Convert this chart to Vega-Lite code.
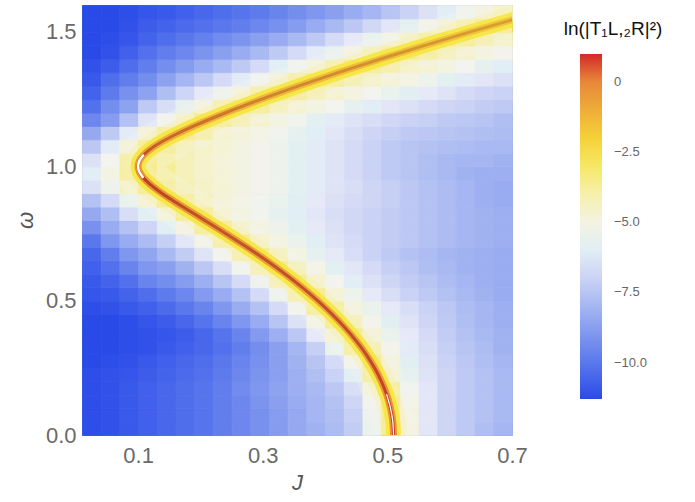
{
"$schema": "https://vega.github.io/schema/vega-lite/v6.json",
"width": 430, "height": 430,
"autosize": {"type": "none"},
"padding": {"left": 82, "top": 5, "right": 183, "bottom": 67},
"background": "white",
"config": {"view": {"stroke": "#9a9a9a", "strokeWidth": 1}, "font": "Liberation Sans"},
"datasets": {
"grid": [
{"j":0.025,"w":0.025,"v":-11.2},{"j":0.055,"w":0.025,"v":-11.1},{"j":0.085,"w":0.025,"v":-10.9},{"j":0.115,"w":0.025,"v":-10.7},{"j":0.145,"w":0.025,"v":-10.5},{"j":0.175,"w":0.025,"v":-10.3},{"j":0.205,"w":0.025,"v":-10.1},{"j":0.235,"w":0.025,"v":-9.8},{"j":0.265,"w":0.025,"v":-9.5},{"j":0.295,"w":0.025,"v":-9.2},{"j":0.325,"w":0.025,"v":-8.8},{"j":0.355,"w":0.025,"v":-8.4},{"j":0.385,"w":0.025,"v":-8.1},{"j":0.415,"w":0.025,"v":-7.8},{"j":0.445,"w":0.025,"v":-7.2},{"j":0.475,"w":0.025,"v":-5.6},{"j":0.505,"w":0.025,"v":-2.8},{"j":0.535,"w":0.025,"v":-4.9},{"j":0.565,"w":0.025,"v":-6.3},{"j":0.595,"w":0.025,"v":-6.9},{"j":0.625,"w":0.025,"v":-7.3},{"j":0.655,"w":0.025,"v":-7.7},{"j":0.685,"w":0.025,"v":-8.0},
{"j":0.025,"w":0.075,"v":-11.2},{"j":0.055,"w":0.075,"v":-11.1},{"j":0.085,"w":0.075,"v":-10.9},{"j":0.115,"w":0.075,"v":-10.7},{"j":0.145,"w":0.075,"v":-10.5},{"j":0.175,"w":0.075,"v":-10.3},{"j":0.205,"w":0.075,"v":-10.1},{"j":0.235,"w":0.075,"v":-9.8},{"j":0.265,"w":0.075,"v":-9.5},{"j":0.295,"w":0.075,"v":-9.2},{"j":0.325,"w":0.075,"v":-8.8},{"j":0.355,"w":0.075,"v":-8.4},{"j":0.385,"w":0.075,"v":-8.0},{"j":0.415,"w":0.075,"v":-7.7},{"j":0.445,"w":0.075,"v":-7.1},{"j":0.475,"w":0.075,"v":-5.5},{"j":0.505,"w":0.075,"v":-2.6},{"j":0.535,"w":0.075,"v":-5.0},{"j":0.565,"w":0.075,"v":-6.3},{"j":0.595,"w":0.075,"v":-6.9},{"j":0.625,"w":0.075,"v":-7.3},{"j":0.655,"w":0.075,"v":-7.6},{"j":0.685,"w":0.075,"v":-7.9},
{"j":0.025,"w":0.125,"v":-11.2},{"j":0.055,"w":0.125,"v":-11.1},{"j":0.085,"w":0.125,"v":-10.9},{"j":0.115,"w":0.125,"v":-10.7},{"j":0.145,"w":0.125,"v":-10.5},{"j":0.175,"w":0.125,"v":-10.3},{"j":0.205,"w":0.125,"v":-10.1},{"j":0.235,"w":0.125,"v":-9.8},{"j":0.265,"w":0.125,"v":-9.5},{"j":0.295,"w":0.125,"v":-9.1},{"j":0.325,"w":0.125,"v":-8.7},{"j":0.355,"w":0.125,"v":-8.3},{"j":0.385,"w":0.125,"v":-8.0},{"j":0.415,"w":0.125,"v":-7.6},{"j":0.445,"w":0.125,"v":-6.9},{"j":0.475,"w":0.125,"v":-5.3},{"j":0.505,"w":0.125,"v":-2.6},{"j":0.535,"w":0.125,"v":-5.1},{"j":0.565,"w":0.125,"v":-6.3},{"j":0.595,"w":0.125,"v":-6.9},{"j":0.625,"w":0.125,"v":-7.3},{"j":0.655,"w":0.125,"v":-7.6},{"j":0.685,"w":0.125,"v":-7.9},
{"j":0.025,"w":0.175,"v":-11.2},{"j":0.055,"w":0.175,"v":-11.1},{"j":0.085,"w":0.175,"v":-10.9},{"j":0.115,"w":0.175,"v":-10.7},{"j":0.145,"w":0.175,"v":-10.5},{"j":0.175,"w":0.175,"v":-10.3},{"j":0.205,"w":0.175,"v":-10.1},{"j":0.235,"w":0.175,"v":-9.8},{"j":0.265,"w":0.175,"v":-9.4},{"j":0.295,"w":0.175,"v":-9.0},{"j":0.325,"w":0.175,"v":-8.6},{"j":0.355,"w":0.175,"v":-8.2},{"j":0.385,"w":0.175,"v":-7.9},{"j":0.415,"w":0.175,"v":-7.4},{"j":0.445,"w":0.175,"v":-6.6},{"j":0.475,"w":0.175,"v":-4.7},{"j":0.505,"w":0.175,"v":-3.3},{"j":0.535,"w":0.175,"v":-5.4},{"j":0.565,"w":0.175,"v":-6.3},{"j":0.595,"w":0.175,"v":-6.9},{"j":0.625,"w":0.175,"v":-7.3},{"j":0.655,"w":0.175,"v":-7.6},{"j":0.685,"w":0.175,"v":-7.9},
{"j":0.025,"w":0.225,"v":-11.2},{"j":0.055,"w":0.225,"v":-11.1},{"j":0.085,"w":0.225,"v":-11.0},{"j":0.115,"w":0.225,"v":-10.8},{"j":0.145,"w":0.225,"v":-10.6},{"j":0.175,"w":0.225,"v":-10.4},{"j":0.205,"w":0.225,"v":-10.2},{"j":0.235,"w":0.225,"v":-9.9},{"j":0.265,"w":0.225,"v":-9.5},{"j":0.295,"w":0.225,"v":-9.1},{"j":0.325,"w":0.225,"v":-8.7},{"j":0.355,"w":0.225,"v":-8.2},{"j":0.385,"w":0.225,"v":-7.7},{"j":0.415,"w":0.225,"v":-7.0},{"j":0.445,"w":0.225,"v":-5.9},{"j":0.475,"w":0.225,"v":-3.3},{"j":0.505,"w":0.225,"v":-4.5},{"j":0.535,"w":0.225,"v":-5.7},{"j":0.565,"w":0.225,"v":-6.4},{"j":0.595,"w":0.225,"v":-6.9},{"j":0.625,"w":0.225,"v":-7.3},{"j":0.655,"w":0.225,"v":-7.6},{"j":0.685,"w":0.225,"v":-7.9},
{"j":0.025,"w":0.275,"v":-11.3},{"j":0.055,"w":0.275,"v":-11.2},{"j":0.085,"w":0.275,"v":-11.1},{"j":0.115,"w":0.275,"v":-10.9},{"j":0.145,"w":0.275,"v":-10.7},{"j":0.175,"w":0.275,"v":-10.5},{"j":0.205,"w":0.275,"v":-10.3},{"j":0.235,"w":0.275,"v":-10.0},{"j":0.265,"w":0.275,"v":-9.6},{"j":0.295,"w":0.275,"v":-9.2},{"j":0.325,"w":0.275,"v":-8.7},{"j":0.355,"w":0.275,"v":-8.1},{"j":0.385,"w":0.275,"v":-7.5},{"j":0.415,"w":0.275,"v":-6.7},{"j":0.445,"w":0.275,"v":-5.2},{"j":0.475,"w":0.275,"v":-2.6},{"j":0.505,"w":0.275,"v":-4.8},{"j":0.535,"w":0.275,"v":-5.9},{"j":0.565,"w":0.275,"v":-6.5},{"j":0.595,"w":0.275,"v":-7.0},{"j":0.625,"w":0.275,"v":-7.4},{"j":0.655,"w":0.275,"v":-7.7},{"j":0.685,"w":0.275,"v":-8.0},
{"j":0.025,"w":0.325,"v":-11.3},{"j":0.055,"w":0.325,"v":-11.3},{"j":0.085,"w":0.325,"v":-11.2},{"j":0.115,"w":0.325,"v":-11.1},{"j":0.145,"w":0.325,"v":-10.9},{"j":0.175,"w":0.325,"v":-10.7},{"j":0.205,"w":0.325,"v":-10.5},{"j":0.235,"w":0.325,"v":-10.2},{"j":0.265,"w":0.325,"v":-9.8},{"j":0.295,"w":0.325,"v":-9.3},{"j":0.325,"w":0.325,"v":-8.7},{"j":0.355,"w":0.325,"v":-8.0},{"j":0.385,"w":0.325,"v":-7.1},{"j":0.415,"w":0.325,"v":-5.6},{"j":0.445,"w":0.325,"v":-3.4},{"j":0.475,"w":0.325,"v":-3.8},{"j":0.505,"w":0.325,"v":-5.2},{"j":0.535,"w":0.325,"v":-6.1},{"j":0.565,"w":0.325,"v":-6.6},{"j":0.595,"w":0.325,"v":-7.1},{"j":0.625,"w":0.325,"v":-7.5},{"j":0.655,"w":0.325,"v":-7.8},{"j":0.685,"w":0.325,"v":-8.1},
{"j":0.025,"w":0.375,"v":-11.3},{"j":0.055,"w":0.375,"v":-11.3},{"j":0.085,"w":0.375,"v":-11.2},{"j":0.115,"w":0.375,"v":-11.1},{"j":0.145,"w":0.375,"v":-11.0},{"j":0.175,"w":0.375,"v":-10.8},{"j":0.205,"w":0.375,"v":-10.5},{"j":0.235,"w":0.375,"v":-10.1},{"j":0.265,"w":0.375,"v":-9.6},{"j":0.295,"w":0.375,"v":-8.9},{"j":0.325,"w":0.375,"v":-8.2},{"j":0.355,"w":0.375,"v":-7.4},{"j":0.385,"w":0.375,"v":-6.2},{"j":0.415,"w":0.375,"v":-4.4},{"j":0.445,"w":0.375,"v":-2.6},{"j":0.475,"w":0.375,"v":-4.6},{"j":0.505,"w":0.375,"v":-5.6},{"j":0.535,"w":0.375,"v":-6.2},{"j":0.565,"w":0.375,"v":-6.7},{"j":0.595,"w":0.375,"v":-7.2},{"j":0.625,"w":0.375,"v":-7.6},{"j":0.655,"w":0.375,"v":-7.9},{"j":0.685,"w":0.375,"v":-8.1},
{"j":0.025,"w":0.425,"v":-11.3},{"j":0.055,"w":0.425,"v":-11.3},{"j":0.085,"w":0.425,"v":-11.2},{"j":0.115,"w":0.425,"v":-11.0},{"j":0.145,"w":0.425,"v":-10.8},{"j":0.175,"w":0.425,"v":-10.5},{"j":0.205,"w":0.425,"v":-10.1},{"j":0.235,"w":0.425,"v":-9.6},{"j":0.265,"w":0.425,"v":-9.0},{"j":0.295,"w":0.425,"v":-8.3},{"j":0.325,"w":0.425,"v":-7.5},{"j":0.355,"w":0.425,"v":-6.5},{"j":0.385,"w":0.425,"v":-5.0},{"j":0.415,"w":0.425,"v":-2.8},{"j":0.445,"w":0.425,"v":-4.0},{"j":0.475,"w":0.425,"v":-5.2},{"j":0.505,"w":0.425,"v":-5.9},{"j":0.535,"w":0.425,"v":-6.4},{"j":0.565,"w":0.425,"v":-6.9},{"j":0.595,"w":0.425,"v":-7.3},{"j":0.625,"w":0.425,"v":-7.7},{"j":0.655,"w":0.425,"v":-8.0},{"j":0.685,"w":0.425,"v":-8.2},
{"j":0.025,"w":0.475,"v":-11.2},{"j":0.055,"w":0.475,"v":-11.1},{"j":0.085,"w":0.475,"v":-10.9},{"j":0.115,"w":0.475,"v":-10.7},{"j":0.145,"w":0.475,"v":-10.4},{"j":0.175,"w":0.475,"v":-10.0},{"j":0.205,"w":0.475,"v":-9.6},{"j":0.235,"w":0.475,"v":-9.0},{"j":0.265,"w":0.475,"v":-8.3},{"j":0.295,"w":0.475,"v":-7.6},{"j":0.325,"w":0.475,"v":-6.7},{"j":0.355,"w":0.475,"v":-5.3},{"j":0.385,"w":0.475,"v":-3.3},{"j":0.415,"w":0.475,"v":-3.3},{"j":0.445,"w":0.475,"v":-4.8},{"j":0.475,"w":0.475,"v":-5.6},{"j":0.505,"w":0.475,"v":-6.2},{"j":0.535,"w":0.475,"v":-6.6},{"j":0.565,"w":0.475,"v":-7.0},{"j":0.595,"w":0.475,"v":-7.4},{"j":0.625,"w":0.475,"v":-7.8},{"j":0.655,"w":0.475,"v":-8.0},{"j":0.685,"w":0.475,"v":-8.2},
{"j":0.025,"w":0.525,"v":-11.0},{"j":0.055,"w":0.525,"v":-10.9},{"j":0.085,"w":0.525,"v":-10.6},{"j":0.115,"w":0.525,"v":-10.3},{"j":0.145,"w":0.525,"v":-9.9},{"j":0.175,"w":0.525,"v":-9.5},{"j":0.205,"w":0.525,"v":-8.9},{"j":0.235,"w":0.525,"v":-8.3},{"j":0.265,"w":0.525,"v":-7.6},{"j":0.295,"w":0.525,"v":-6.7},{"j":0.325,"w":0.525,"v":-5.5},{"j":0.355,"w":0.525,"v":-3.7},{"j":0.385,"w":0.525,"v":-2.7},{"j":0.415,"w":0.525,"v":-4.5},{"j":0.445,"w":0.525,"v":-5.5},{"j":0.475,"w":0.525,"v":-6.2},{"j":0.505,"w":0.525,"v":-6.6},{"j":0.535,"w":0.525,"v":-7.0},{"j":0.565,"w":0.525,"v":-7.3},{"j":0.595,"w":0.525,"v":-7.6},{"j":0.625,"w":0.525,"v":-7.9},{"j":0.655,"w":0.525,"v":-8.1},{"j":0.685,"w":0.525,"v":-8.3},
{"j":0.025,"w":0.575,"v":-10.9},{"j":0.055,"w":0.575,"v":-10.6},{"j":0.085,"w":0.575,"v":-10.2},{"j":0.115,"w":0.575,"v":-9.6},{"j":0.145,"w":0.575,"v":-9.3},{"j":0.175,"w":0.575,"v":-8.8},{"j":0.205,"w":0.575,"v":-8.2},{"j":0.235,"w":0.575,"v":-7.5},{"j":0.265,"w":0.575,"v":-6.7},{"j":0.295,"w":0.575,"v":-5.5},{"j":0.325,"w":0.575,"v":-3.9},{"j":0.355,"w":0.575,"v":-2.6},{"j":0.385,"w":0.575,"v":-4.3},{"j":0.415,"w":0.575,"v":-5.3},{"j":0.445,"w":0.575,"v":-6.0},{"j":0.475,"w":0.575,"v":-6.5},{"j":0.505,"w":0.575,"v":-6.9},{"j":0.535,"w":0.575,"v":-7.2},{"j":0.565,"w":0.575,"v":-7.5},{"j":0.595,"w":0.575,"v":-7.8},{"j":0.625,"w":0.575,"v":-8.0},{"j":0.655,"w":0.575,"v":-8.2},{"j":0.685,"w":0.575,"v":-8.3},
{"j":0.025,"w":0.625,"v":-10.7},{"j":0.055,"w":0.625,"v":-10.2},{"j":0.085,"w":0.625,"v":-9.6},{"j":0.115,"w":0.625,"v":-9.0},{"j":0.145,"w":0.625,"v":-8.7},{"j":0.175,"w":0.625,"v":-8.1},{"j":0.205,"w":0.625,"v":-7.4},{"j":0.235,"w":0.625,"v":-6.6},{"j":0.265,"w":0.625,"v":-5.4},{"j":0.295,"w":0.625,"v":-3.9},{"j":0.325,"w":0.625,"v":-2.6},{"j":0.355,"w":0.625,"v":-4.1},{"j":0.385,"w":0.625,"v":-5.1},{"j":0.415,"w":0.625,"v":-5.8},{"j":0.445,"w":0.625,"v":-6.3},{"j":0.475,"w":0.625,"v":-6.7},{"j":0.505,"w":0.625,"v":-7.1},{"j":0.535,"w":0.625,"v":-7.4},{"j":0.565,"w":0.625,"v":-7.7},{"j":0.595,"w":0.625,"v":-7.9},{"j":0.625,"w":0.625,"v":-8.1},{"j":0.655,"w":0.625,"v":-8.2},{"j":0.685,"w":0.625,"v":-8.3},
{"j":0.025,"w":0.675,"v":-10.5},{"j":0.055,"w":0.675,"v":-9.8},{"j":0.085,"w":0.675,"v":-9.0},{"j":0.115,"w":0.675,"v":-8.5},{"j":0.145,"w":0.675,"v":-7.9},{"j":0.175,"w":0.675,"v":-7.2},{"j":0.205,"w":0.675,"v":-6.4},{"j":0.235,"w":0.675,"v":-5.3},{"j":0.265,"w":0.675,"v":-3.7},{"j":0.295,"w":0.675,"v":-2.6},{"j":0.325,"w":0.675,"v":-4.1},{"j":0.355,"w":0.675,"v":-5.0},{"j":0.385,"w":0.675,"v":-5.7},{"j":0.415,"w":0.675,"v":-6.2},{"j":0.445,"w":0.675,"v":-6.6},{"j":0.475,"w":0.675,"v":-7.0},{"j":0.505,"w":0.675,"v":-7.3},{"j":0.535,"w":0.675,"v":-7.6},{"j":0.565,"w":0.675,"v":-7.8},{"j":0.595,"w":0.675,"v":-8.0},{"j":0.625,"w":0.675,"v":-8.1},{"j":0.655,"w":0.675,"v":-8.2},{"j":0.685,"w":0.675,"v":-8.3},
{"j":0.025,"w":0.725,"v":-10.0},{"j":0.055,"w":0.725,"v":-9.0},{"j":0.085,"w":0.725,"v":-8.3},{"j":0.115,"w":0.725,"v":-7.8},{"j":0.145,"w":0.725,"v":-7.1},{"j":0.175,"w":0.725,"v":-6.3},{"j":0.205,"w":0.725,"v":-5.1},{"j":0.235,"w":0.725,"v":-3.5},{"j":0.265,"w":0.725,"v":-2.7},{"j":0.295,"w":0.725,"v":-4.2},{"j":0.325,"w":0.725,"v":-5.0},{"j":0.355,"w":0.725,"v":-5.6},{"j":0.385,"w":0.725,"v":-6.0},{"j":0.415,"w":0.725,"v":-6.4},{"j":0.445,"w":0.725,"v":-6.7},{"j":0.475,"w":0.725,"v":-7.0},{"j":0.505,"w":0.725,"v":-7.2},{"j":0.535,"w":0.725,"v":-7.4},{"j":0.565,"w":0.725,"v":-7.6},{"j":0.595,"w":0.725,"v":-7.8},{"j":0.625,"w":0.725,"v":-8.0},{"j":0.655,"w":0.725,"v":-8.1},{"j":0.685,"w":0.725,"v":-8.2},
{"j":0.025,"w":0.775,"v":-9.2},{"j":0.055,"w":0.775,"v":-8.3},{"j":0.085,"w":0.775,"v":-7.6},{"j":0.115,"w":0.775,"v":-6.9},{"j":0.145,"w":0.775,"v":-6.0},{"j":0.175,"w":0.775,"v":-4.9},{"j":0.205,"w":0.775,"v":-3.2},{"j":0.235,"w":0.775,"v":-2.8},{"j":0.265,"w":0.775,"v":-4.3},{"j":0.295,"w":0.775,"v":-5.0},{"j":0.325,"w":0.775,"v":-5.5},{"j":0.355,"w":0.775,"v":-5.8},{"j":0.385,"w":0.775,"v":-6.2},{"j":0.415,"w":0.775,"v":-6.5},{"j":0.445,"w":0.775,"v":-6.8},{"j":0.475,"w":0.775,"v":-7.0},{"j":0.505,"w":0.775,"v":-7.2},{"j":0.535,"w":0.775,"v":-7.4},{"j":0.565,"w":0.775,"v":-7.6},{"j":0.595,"w":0.775,"v":-7.8},{"j":0.625,"w":0.775,"v":-8.0},{"j":0.655,"w":0.775,"v":-8.1},{"j":0.685,"w":0.775,"v":-8.2},
{"j":0.025,"w":0.825,"v":-8.4},{"j":0.055,"w":0.825,"v":-7.7},{"j":0.085,"w":0.825,"v":-6.6},{"j":0.115,"w":0.825,"v":-5.9},{"j":0.145,"w":0.825,"v":-4.7},{"j":0.175,"w":0.825,"v":-2.9},{"j":0.205,"w":0.825,"v":-3.0},{"j":0.235,"w":0.825,"v":-4.4},{"j":0.265,"w":0.825,"v":-5.0},{"j":0.295,"w":0.825,"v":-5.4},{"j":0.325,"w":0.825,"v":-5.7},{"j":0.355,"w":0.825,"v":-6.0},{"j":0.385,"w":0.825,"v":-6.3},{"j":0.415,"w":0.825,"v":-6.6},{"j":0.445,"w":0.825,"v":-6.8},{"j":0.475,"w":0.825,"v":-7.0},{"j":0.505,"w":0.825,"v":-7.2},{"j":0.535,"w":0.825,"v":-7.4},{"j":0.565,"w":0.825,"v":-7.6},{"j":0.595,"w":0.825,"v":-7.8},{"j":0.625,"w":0.825,"v":-8.0},{"j":0.655,"w":0.825,"v":-8.1},{"j":0.685,"w":0.825,"v":-8.2},
{"j":0.025,"w":0.875,"v":-7.6},{"j":0.055,"w":0.875,"v":-6.7},{"j":0.085,"w":0.875,"v":-5.6},{"j":0.115,"w":0.875,"v":-4.4},{"j":0.145,"w":0.875,"v":-2.7},{"j":0.175,"w":0.875,"v":-3.3},{"j":0.205,"w":0.875,"v":-4.2},{"j":0.235,"w":0.875,"v":-4.8},{"j":0.265,"w":0.875,"v":-5.1},{"j":0.295,"w":0.875,"v":-5.4},{"j":0.325,"w":0.875,"v":-5.6},{"j":0.355,"w":0.875,"v":-5.9},{"j":0.385,"w":0.875,"v":-6.2},{"j":0.415,"w":0.875,"v":-6.5},{"j":0.445,"w":0.875,"v":-6.7},{"j":0.475,"w":0.875,"v":-6.9},{"j":0.505,"w":0.875,"v":-7.1},{"j":0.535,"w":0.875,"v":-7.4},{"j":0.565,"w":0.875,"v":-7.6},{"j":0.595,"w":0.875,"v":-7.8},{"j":0.625,"w":0.875,"v":-8.0},{"j":0.655,"w":0.875,"v":-8.2},{"j":0.685,"w":0.875,"v":-8.3},
{"j":0.025,"w":0.925,"v":-6.5},{"j":0.055,"w":0.925,"v":-5.5},{"j":0.085,"w":0.925,"v":-4.3},{"j":0.115,"w":0.925,"v":-2.7},{"j":0.145,"w":0.925,"v":-3.4},{"j":0.175,"w":0.925,"v":-4.0},{"j":0.205,"w":0.925,"v":-4.4},{"j":0.235,"w":0.925,"v":-4.7},{"j":0.265,"w":0.925,"v":-5.0},{"j":0.295,"w":0.925,"v":-5.2},{"j":0.325,"w":0.925,"v":-5.5},{"j":0.355,"w":0.925,"v":-5.8},{"j":0.385,"w":0.925,"v":-6.1},{"j":0.415,"w":0.925,"v":-6.4},{"j":0.445,"w":0.925,"v":-6.6},{"j":0.475,"w":0.925,"v":-6.9},{"j":0.505,"w":0.925,"v":-7.1},{"j":0.535,"w":0.925,"v":-7.4},{"j":0.565,"w":0.925,"v":-7.6},{"j":0.595,"w":0.925,"v":-7.8},{"j":0.625,"w":0.925,"v":-8.0},{"j":0.655,"w":0.925,"v":-8.2},{"j":0.685,"w":0.925,"v":-8.3},
{"j":0.025,"w":0.975,"v":-6.0},{"j":0.055,"w":0.975,"v":-5.0},{"j":0.085,"w":0.975,"v":-3.4},{"j":0.115,"w":0.975,"v":-2.9},{"j":0.145,"w":0.975,"v":-3.7},{"j":0.175,"w":0.975,"v":-4.2},{"j":0.205,"w":0.975,"v":-4.5},{"j":0.235,"w":0.975,"v":-4.8},{"j":0.265,"w":0.975,"v":-5.0},{"j":0.295,"w":0.975,"v":-5.2},{"j":0.325,"w":0.975,"v":-5.5},{"j":0.355,"w":0.975,"v":-5.8},{"j":0.385,"w":0.975,"v":-6.1},{"j":0.415,"w":0.975,"v":-6.4},{"j":0.445,"w":0.975,"v":-6.7},{"j":0.475,"w":0.975,"v":-7.0},{"j":0.505,"w":0.975,"v":-7.3},{"j":0.535,"w":0.975,"v":-7.5},{"j":0.565,"w":0.975,"v":-7.7},{"j":0.595,"w":0.975,"v":-7.9},{"j":0.625,"w":0.975,"v":-8.1},{"j":0.655,"w":0.975,"v":-8.2},{"j":0.685,"w":0.975,"v":-8.2},
{"j":0.025,"w":1.025,"v":-6.5},{"j":0.055,"w":1.025,"v":-5.3},{"j":0.085,"w":1.025,"v":-3.5},{"j":0.115,"w":1.025,"v":-2.9},{"j":0.145,"w":1.025,"v":-3.7},{"j":0.175,"w":1.025,"v":-4.2},{"j":0.205,"w":1.025,"v":-4.5},{"j":0.235,"w":1.025,"v":-4.8},{"j":0.265,"w":1.025,"v":-5.0},{"j":0.295,"w":1.025,"v":-5.2},{"j":0.325,"w":1.025,"v":-5.5},{"j":0.355,"w":1.025,"v":-5.8},{"j":0.385,"w":1.025,"v":-6.1},{"j":0.415,"w":1.025,"v":-6.4},{"j":0.445,"w":1.025,"v":-6.7},{"j":0.475,"w":1.025,"v":-7.0},{"j":0.505,"w":1.025,"v":-7.3},{"j":0.535,"w":1.025,"v":-7.5},{"j":0.565,"w":1.025,"v":-7.7},{"j":0.595,"w":1.025,"v":-7.9},{"j":0.625,"w":1.025,"v":-8.0},{"j":0.655,"w":1.025,"v":-8.0},{"j":0.685,"w":1.025,"v":-8.1},
{"j":0.025,"w":1.075,"v":-7.4},{"j":0.055,"w":1.075,"v":-6.1},{"j":0.085,"w":1.075,"v":-4.6},{"j":0.115,"w":1.075,"v":-2.8},{"j":0.145,"w":1.075,"v":-3.2},{"j":0.175,"w":1.075,"v":-4.0},{"j":0.205,"w":1.075,"v":-4.4},{"j":0.235,"w":1.075,"v":-4.7},{"j":0.265,"w":1.075,"v":-5.0},{"j":0.295,"w":1.075,"v":-5.2},{"j":0.325,"w":1.075,"v":-5.5},{"j":0.355,"w":1.075,"v":-5.8},{"j":0.385,"w":1.075,"v":-6.1},{"j":0.415,"w":1.075,"v":-6.4},{"j":0.445,"w":1.075,"v":-6.7},{"j":0.475,"w":1.075,"v":-7.0},{"j":0.505,"w":1.075,"v":-7.3},{"j":0.535,"w":1.075,"v":-7.5},{"j":0.565,"w":1.075,"v":-7.6},{"j":0.595,"w":1.075,"v":-7.7},{"j":0.625,"w":1.075,"v":-7.8},{"j":0.655,"w":1.075,"v":-7.9},{"j":0.685,"w":1.075,"v":-7.9},
{"j":0.025,"w":1.125,"v":-8.4},{"j":0.055,"w":1.125,"v":-7.3},{"j":0.085,"w":1.125,"v":-6.1},{"j":0.115,"w":1.125,"v":-4.6},{"j":0.145,"w":1.125,"v":-3.1},{"j":0.175,"w":1.125,"v":-2.6},{"j":0.205,"w":1.125,"v":-3.6},{"j":0.235,"w":1.125,"v":-4.4},{"j":0.265,"w":1.125,"v":-4.8},{"j":0.295,"w":1.125,"v":-5.1},{"j":0.325,"w":1.125,"v":-5.4},{"j":0.355,"w":1.125,"v":-5.7},{"j":0.385,"w":1.125,"v":-6.0},{"j":0.415,"w":1.125,"v":-6.3},{"j":0.445,"w":1.125,"v":-6.6},{"j":0.475,"w":1.125,"v":-6.9},{"j":0.505,"w":1.125,"v":-7.1},{"j":0.535,"w":1.125,"v":-7.3},{"j":0.565,"w":1.125,"v":-7.4},{"j":0.595,"w":1.125,"v":-7.5},{"j":0.625,"w":1.125,"v":-7.6},{"j":0.655,"w":1.125,"v":-7.7},{"j":0.685,"w":1.125,"v":-7.8},
{"j":0.025,"w":1.175,"v":-9.5},{"j":0.055,"w":1.175,"v":-8.8},{"j":0.085,"w":1.175,"v":-7.6},{"j":0.115,"w":1.175,"v":-6.4},{"j":0.145,"w":1.175,"v":-5.3},{"j":0.175,"w":1.175,"v":-4.3},{"j":0.205,"w":1.175,"v":-2.6},{"j":0.235,"w":1.175,"v":-3.0},{"j":0.265,"w":1.175,"v":-3.9},{"j":0.295,"w":1.175,"v":-4.5},{"j":0.325,"w":1.175,"v":-5.0},{"j":0.355,"w":1.175,"v":-5.4},{"j":0.385,"w":1.175,"v":-5.8},{"j":0.415,"w":1.175,"v":-6.1},{"j":0.445,"w":1.175,"v":-6.4},{"j":0.475,"w":1.175,"v":-6.6},{"j":0.505,"w":1.175,"v":-6.8},{"j":0.535,"w":1.175,"v":-7.0},{"j":0.565,"w":1.175,"v":-7.1},{"j":0.595,"w":1.175,"v":-7.3},{"j":0.625,"w":1.175,"v":-7.4},{"j":0.655,"w":1.175,"v":-7.5},{"j":0.685,"w":1.175,"v":-7.7},
{"j":0.025,"w":1.225,"v":-10.2},{"j":0.055,"w":1.225,"v":-9.3},{"j":0.085,"w":1.225,"v":-8.6},{"j":0.115,"w":1.225,"v":-7.3},{"j":0.145,"w":1.225,"v":-6.6},{"j":0.175,"w":1.225,"v":-5.7},{"j":0.205,"w":1.225,"v":-4.9},{"j":0.235,"w":1.225,"v":-3.8},{"j":0.265,"w":1.225,"v":-2.6},{"j":0.295,"w":1.225,"v":-3.1},{"j":0.325,"w":1.225,"v":-4.0},{"j":0.355,"w":1.225,"v":-4.5},{"j":0.385,"w":1.225,"v":-5.0},{"j":0.415,"w":1.225,"v":-5.3},{"j":0.445,"w":1.225,"v":-5.7},{"j":0.475,"w":1.225,"v":-6.0},{"j":0.505,"w":1.225,"v":-6.3},{"j":0.535,"w":1.225,"v":-6.5},{"j":0.565,"w":1.225,"v":-6.7},{"j":0.595,"w":1.225,"v":-6.9},{"j":0.625,"w":1.225,"v":-7.0},{"j":0.655,"w":1.225,"v":-7.2},{"j":0.685,"w":1.225,"v":-7.3},
{"j":0.025,"w":1.275,"v":-10.6},{"j":0.055,"w":1.275,"v":-9.9},{"j":0.085,"w":1.275,"v":-9.2},{"j":0.115,"w":1.275,"v":-8.6},{"j":0.145,"w":1.275,"v":-7.7},{"j":0.175,"w":1.275,"v":-6.9},{"j":0.205,"w":1.275,"v":-6.2},{"j":0.235,"w":1.275,"v":-5.5},{"j":0.265,"w":1.275,"v":-4.7},{"j":0.295,"w":1.275,"v":-3.6},{"j":0.325,"w":1.275,"v":-2.6},{"j":0.355,"w":1.275,"v":-3.1},{"j":0.385,"w":1.275,"v":-3.9},{"j":0.415,"w":1.275,"v":-4.4},{"j":0.445,"w":1.275,"v":-4.9},{"j":0.475,"w":1.275,"v":-5.3},{"j":0.505,"w":1.275,"v":-5.6},{"j":0.535,"w":1.275,"v":-5.9},{"j":0.565,"w":1.275,"v":-6.2},{"j":0.595,"w":1.275,"v":-6.4},{"j":0.625,"w":1.275,"v":-6.7},{"j":0.655,"w":1.275,"v":-6.9},{"j":0.685,"w":1.275,"v":-7.0},
{"j":0.025,"w":1.325,"v":-10.9},{"j":0.055,"w":1.325,"v":-10.3},{"j":0.085,"w":1.325,"v":-9.8},{"j":0.115,"w":1.325,"v":-9.3},{"j":0.145,"w":1.325,"v":-8.6},{"j":0.175,"w":1.325,"v":-8.0},{"j":0.205,"w":1.325,"v":-7.4},{"j":0.235,"w":1.325,"v":-6.7},{"j":0.265,"w":1.325,"v":-6.1},{"j":0.295,"w":1.325,"v":-5.4},{"j":0.325,"w":1.325,"v":-4.6},{"j":0.355,"w":1.325,"v":-3.6},{"j":0.385,"w":1.325,"v":-2.6},{"j":0.415,"w":1.325,"v":-3.0},{"j":0.445,"w":1.325,"v":-3.8},{"j":0.475,"w":1.325,"v":-4.3},{"j":0.505,"w":1.325,"v":-4.8},{"j":0.535,"w":1.325,"v":-5.1},{"j":0.565,"w":1.325,"v":-5.5},{"j":0.595,"w":1.325,"v":-5.8},{"j":0.625,"w":1.325,"v":-6.1},{"j":0.655,"w":1.325,"v":-6.3},{"j":0.685,"w":1.325,"v":-6.5},
{"j":0.025,"w":1.375,"v":-11.1},{"j":0.055,"w":1.375,"v":-10.8},{"j":0.085,"w":1.375,"v":-10.3},{"j":0.115,"w":1.375,"v":-9.8},{"j":0.145,"w":1.375,"v":-9.3},{"j":0.175,"w":1.375,"v":-8.8},{"j":0.205,"w":1.375,"v":-8.3},{"j":0.235,"w":1.375,"v":-7.9},{"j":0.265,"w":1.375,"v":-7.3},{"j":0.295,"w":1.375,"v":-6.7},{"j":0.325,"w":1.375,"v":-6.0},{"j":0.355,"w":1.375,"v":-5.4},{"j":0.385,"w":1.375,"v":-4.7},{"j":0.415,"w":1.375,"v":-3.9},{"j":0.445,"w":1.375,"v":-2.6},{"j":0.475,"w":1.375,"v":-2.8},{"j":0.505,"w":1.375,"v":-3.6},{"j":0.535,"w":1.375,"v":-4.2},{"j":0.565,"w":1.375,"v":-4.6},{"j":0.595,"w":1.375,"v":-5.0},{"j":0.625,"w":1.375,"v":-5.3},{"j":0.655,"w":1.375,"v":-5.7},{"j":0.685,"w":1.375,"v":-6.0},
{"j":0.025,"w":1.425,"v":-11.3},{"j":0.055,"w":1.425,"v":-11.1},{"j":0.085,"w":1.425,"v":-10.7},{"j":0.115,"w":1.425,"v":-10.2},{"j":0.145,"w":1.425,"v":-9.8},{"j":0.175,"w":1.425,"v":-9.5},{"j":0.205,"w":1.425,"v":-9.1},{"j":0.235,"w":1.425,"v":-8.7},{"j":0.265,"w":1.425,"v":-8.3},{"j":0.295,"w":1.425,"v":-7.9},{"j":0.325,"w":1.425,"v":-7.3},{"j":0.355,"w":1.425,"v":-6.7},{"j":0.385,"w":1.425,"v":-6.1},{"j":0.415,"w":1.425,"v":-5.6},{"j":0.445,"w":1.425,"v":-4.9},{"j":0.475,"w":1.425,"v":-4.1},{"j":0.505,"w":1.425,"v":-3.0},{"j":0.535,"w":1.425,"v":-2.6},{"j":0.565,"w":1.425,"v":-3.4},{"j":0.595,"w":1.425,"v":-4.0},{"j":0.625,"w":1.425,"v":-4.4},{"j":0.655,"w":1.425,"v":-4.9},{"j":0.685,"w":1.425,"v":-5.2},
{"j":0.025,"w":1.475,"v":-11.3},{"j":0.055,"w":1.475,"v":-11.2},{"j":0.085,"w":1.475,"v":-11.0},{"j":0.115,"w":1.475,"v":-10.6},{"j":0.145,"w":1.475,"v":-10.3},{"j":0.175,"w":1.475,"v":-10.0},{"j":0.205,"w":1.475,"v":-9.7},{"j":0.235,"w":1.475,"v":-9.4},{"j":0.265,"w":1.475,"v":-9.1},{"j":0.295,"w":1.475,"v":-8.7},{"j":0.325,"w":1.475,"v":-8.3},{"j":0.355,"w":1.475,"v":-7.9},{"j":0.385,"w":1.475,"v":-7.3},{"j":0.415,"w":1.475,"v":-6.7},{"j":0.445,"w":1.475,"v":-6.2},{"j":0.475,"w":1.475,"v":-5.6},{"j":0.505,"w":1.475,"v":-5.0},{"j":0.535,"w":1.475,"v":-4.3},{"j":0.565,"w":1.475,"v":-3.3},{"j":0.595,"w":1.475,"v":-2.6},{"j":0.625,"w":1.475,"v":-3.0},{"j":0.655,"w":1.475,"v":-3.8},{"j":0.685,"w":1.475,"v":-4.3},
{"j":0.025,"w":1.525,"v":-11.3},{"j":0.055,"w":1.525,"v":-11.3},{"j":0.085,"w":1.525,"v":-11.1},{"j":0.115,"w":1.525,"v":-10.8},{"j":0.145,"w":1.525,"v":-10.6},{"j":0.175,"w":1.525,"v":-10.4},{"j":0.205,"w":1.525,"v":-10.2},{"j":0.235,"w":1.525,"v":-10.0},{"j":0.265,"w":1.525,"v":-9.8},{"j":0.295,"w":1.525,"v":-9.5},{"j":0.325,"w":1.525,"v":-9.2},{"j":0.355,"w":1.525,"v":-8.8},{"j":0.385,"w":1.525,"v":-8.3},{"j":0.415,"w":1.525,"v":-7.9},{"j":0.445,"w":1.525,"v":-7.4},{"j":0.475,"w":1.525,"v":-6.8},{"j":0.505,"w":1.525,"v":-6.3},{"j":0.535,"w":1.525,"v":-5.8},{"j":0.565,"w":1.525,"v":-5.2},{"j":0.595,"w":1.525,"v":-4.6},{"j":0.625,"w":1.525,"v":-3.8},{"j":0.655,"w":1.525,"v":-2.7},{"j":0.685,"w":1.525,"v":-2.7},
{"j":0.025,"w":1.575,"v":-11.3},{"j":0.055,"w":1.575,"v":-11.3},{"j":0.085,"w":1.575,"v":-11.2},{"j":0.115,"w":1.575,"v":-11.0},{"j":0.145,"w":1.575,"v":-10.9},{"j":0.175,"w":1.575,"v":-10.7},{"j":0.205,"w":1.575,"v":-10.5},{"j":0.235,"w":1.575,"v":-10.3},{"j":0.265,"w":1.575,"v":-10.1},{"j":0.295,"w":1.575,"v":-9.9},{"j":0.325,"w":1.575,"v":-9.6},{"j":0.355,"w":1.575,"v":-9.3},{"j":0.385,"w":1.575,"v":-9.0},{"j":0.415,"w":1.575,"v":-8.7},{"j":0.445,"w":1.575,"v":-8.3},{"j":0.475,"w":1.575,"v":-8.0},{"j":0.505,"w":1.575,"v":-7.5},{"j":0.535,"w":1.575,"v":-7.0},{"j":0.565,"w":1.575,"v":-6.5},{"j":0.595,"w":1.575,"v":-6.0},{"j":0.625,"w":1.575,"v":-5.4},{"j":0.655,"w":1.575,"v":-4.8},{"j":0.685,"w":1.575,"v":-4.2}
],
"curve": [
{"w":0.0,"j":0.5099},{"w":0.05,"j":0.5087},{"w":0.1,"j":0.505},{"w":0.15,"j":0.4989},{"w":0.2,"j":0.4903},{"w":0.25,"j":0.4793},{"w":0.3,"j":0.4659},{"w":0.35,"j":0.45},{"w":0.4,"j":0.4317},{"w":0.45,"j":0.4111},{"w":0.5,"j":0.3881},{"w":0.55,"j":0.3628},{"w":0.6,"j":0.3353},{"w":0.65,"j":0.3056},{"w":0.7,"j":0.2739},{"w":0.75,"j":0.2405},{"w":0.8,"j":0.2059},{"w":0.85,"j":0.171},{"w":0.88,"j":0.1507},{"w":0.91,"j":0.1319},{"w":0.94,"j":0.1157},{"w":0.96,"j":0.1074},{"w":0.98,"j":0.1019},{"w":1.0,"j":0.1},{"w":1.02,"j":0.102},{"w":1.04,"j":0.108},{"w":1.06,"j":0.1175},{"w":1.09,"j":0.1373},{"w":1.12,"j":0.1618},{"w":1.15,"j":0.1897},{"w":1.2,"j":0.2417},{"w":1.25,"j":0.2985},{"w":1.3,"j":0.3592},{"w":1.35,"j":0.4232},{"w":1.4,"j":0.4903},{"w":1.45,"j":0.5602},{"w":1.5,"j":0.633},{"w":1.55,"j":0.7083}
]
},
"layer": [
{
"data": {"name": "grid"},
"mark": {"type": "rect", "strokeWidth": 0.8, "stroke": {"expr": "scale('fill', datum.v)"}},
"encoding": {
"x": {"field": "j", "type": "quantitative", "bin": {"extent": [0.01, 0.7], "step": 0.03, "nice": false},
 "scale": {"domain": [0.01, 0.7], "nice": false, "zero": false},
 "axis": {"title": "J", "values": [0.1, 0.3, 0.5, 0.7], "format": ".1f", "ticks": false, "domain": false, "grid": false, "labelFlush": false, "labelOverlap": false, "labelFontSize": 22, "labelColor": "#6a6a6a", "labelPadding": 10, "titleFontSize": 22, "titleFontStyle": "italic", "titleFontWeight": "normal", "titleColor": "#555555", "titlePadding": 6}},
"y": {"field": "w", "type": "quantitative", "bin": {"extent": [0, 1.6], "step": 0.05, "nice": false},
 "scale": {"domain": [0, 1.6], "nice": false, "zero": false},
 "axis": {"title": "ω", "values": [0, 0.5, 1, 1.5], "format": ".1f", "ticks": false, "domain": false, "grid": false, "labelFlush": false, "labelOverlap": false, "labelFontSize": 22, "labelColor": "#6a6a6a", "labelPadding": 6, "titleFontSize": 22, "titleFontStyle": "italic", "titleFontWeight": "normal", "titleColor": "#555555", "titlePadding": 8}},
"fill": {"field": "v", "type": "quantitative",
 "scale": {"domain": [-11.3, -10, -8.7, -7.5, -6.2, -5.3, -4.4, -3.4, -2.5, -1.2, 0, 1], "range": ["#2a4ae8", "#5a78ec", "#8aa0ef", "#b8c5f3", "#e6e9f7", "#f3f3ef", "#f6f2c8", "#f6ec80", "#f6e33c", "#f0b43a", "#e7883a", "#d32a28"], "clamp": true},
 "legend": {"type": "gradient", "orient": "none", "legendX": 482, "legendY": 15, "direction": "vertical", "gradientLength": 345, "gradientThickness": 22, "gradientStrokeWidth": 0, "title": "ln(|T₁L,₂R|²)", "titleFontSize": 19, "titleFontWeight": "normal", "titleColor": "#111111", "titleAnchor": "middle", "titlePadding": 15, "values": [0, -2.5, -5, -7.5, -10], "labelExpr": "datum.value == 0 ? '0' : format(datum.value, '.1f')", "labelFontSize": 13, "labelColor": "#666666", "labelOffset": 12, "padding": 0}}
}
},
{
"data": {"name": "curve"},
"mark": {"type": "line", "stroke": "#f3f3ee", "strokeWidth": 46, "strokeOpacity": 0.35, "clip": true, "interpolate": "catmull-rom", "strokeCap": "butt"},
"encoding": {"x": {"field": "j", "type": "quantitative"}, "y": {"field": "w", "type": "quantitative"}, "order": {"field": "w", "type": "quantitative"}}
},
{
"data": {"name": "curve"},
"mark": {"type": "line", "stroke": "#f7f0b0", "strokeWidth": 26, "strokeOpacity": 0.5, "clip": true, "interpolate": "catmull-rom", "strokeCap": "butt"},
"encoding": {"x": {"field": "j", "type": "quantitative"}, "y": {"field": "w", "type": "quantitative"}, "order": {"field": "w", "type": "quantitative"}}
},
{
"data": {"name": "curve"},
"mark": {"type": "line", "stroke": "#f6e53e", "strokeWidth": 15, "strokeOpacity": 0.9, "clip": true, "interpolate": "catmull-rom", "strokeCap": "butt"},
"encoding": {"x": {"field": "j", "type": "quantitative"}, "y": {"field": "w", "type": "quantitative"}, "order": {"field": "w", "type": "quantitative"}}
},
{
"data": {"name": "curve"},
"mark": {"type": "line", "strokeWidth": 7, "clip": true, "interpolate": "catmull-rom", "strokeCap": "butt",
 "stroke": {"gradient": "linear", "x1": 0, "y1": 0, "x2": 0, "y2": 1, "stops": [{"offset": 0, "color": "#f0c83c"}, {"offset": 0.3, "color": "#eeac34"}, {"offset": 0.36, "color": "#ea9430"}, {"offset": 0.7, "color": "#eca634"}, {"offset": 1, "color": "#ea9030"}]}},
"encoding": {"x": {"field": "j", "type": "quantitative"}, "y": {"field": "w", "type": "quantitative"}, "order": {"field": "w", "type": "quantitative"}}
},
{
"data": {"name": "curve"},
"mark": {"type": "line", "strokeWidth": 3, "clip": true, "interpolate": "catmull-rom", "strokeCap": "butt",
 "stroke": {"gradient": "linear", "x1": 0, "y1": 0, "x2": 0, "y2": 1, "stops": [{"offset": 0, "color": "#d8a030"}, {"offset": 0.2, "color": "#d0802e"}, {"offset": 0.3, "color": "#c6602a"}, {"offset": 0.36, "color": "#b83a24"}, {"offset": 0.5, "color": "#c0552a"}, {"offset": 0.8, "color": "#c24a2a"}, {"offset": 1, "color": "#c8352a"}]}},
"encoding": {"x": {"field": "j", "type": "quantitative"}, "y": {"field": "w", "type": "quantitative"}, "order": {"field": "w", "type": "quantitative"}}
},
{
"data": {"name": "curve"},
"transform": [{"filter": "datum.w >= 0.96 && datum.w <= 1.04"}],
"mark": {"type": "line", "stroke": "#ffffff", "strokeWidth": 2.5, "clip": true, "interpolate": "catmull-rom", "strokeCap": "round"},
"encoding": {"x": {"field": "j", "type": "quantitative"}, "y": {"field": "w", "type": "quantitative"}, "order": {"field": "w", "type": "quantitative"}}
},
{
"data": {"name": "curve"},
"transform": [{"filter": "datum.w <= 0.15"}],
"mark": {"type": "line", "stroke": "#ffffff", "strokeWidth": 1.2, "clip": true, "interpolate": "catmull-rom", "strokeCap": "round"},
"encoding": {"x": {"field": "j", "type": "quantitative"}, "y": {"field": "w", "type": "quantitative"}, "order": {"field": "w", "type": "quantitative"}}
}
]
}
